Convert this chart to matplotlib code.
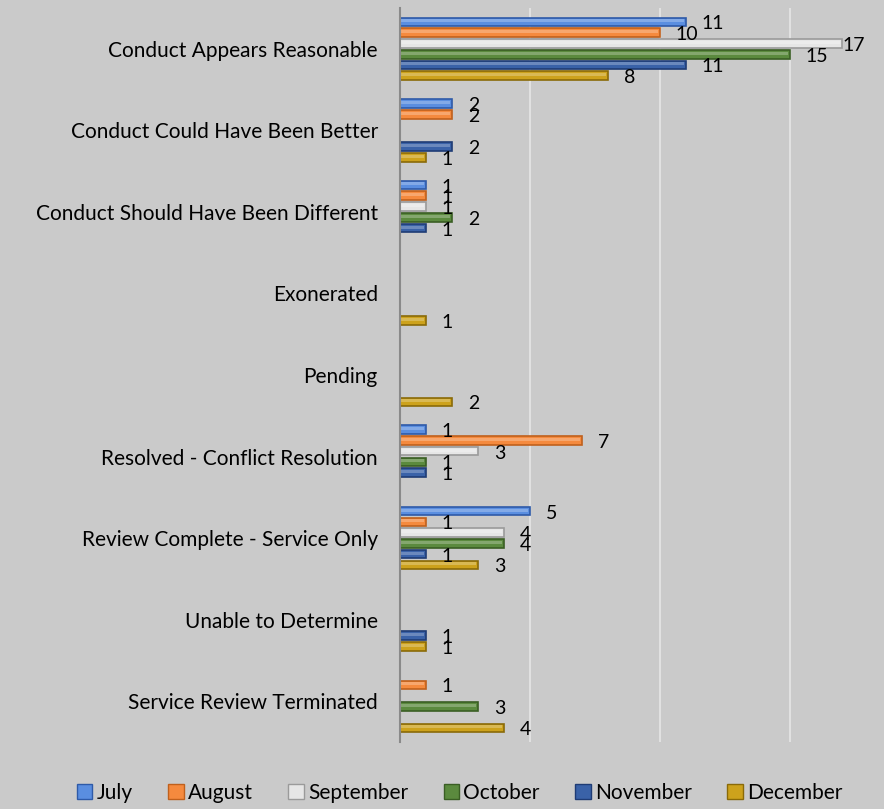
import matplotlib
matplotlib.use("Agg")
import matplotlib.pyplot as plt
import numpy as np

categories = [
    "Conduct Appears Reasonable",
    "Conduct Could Have Been Better",
    "Conduct Should Have Been Different",
    "Exonerated",
    "Pending",
    "Resolved - Conflict Resolution",
    "Review Complete - Service Only",
    "Unable to Determine",
    "Service Review Terminated",
]
months = ["July", "August", "September", "October", "November", "December"]

july = [11, 2, 1, 0, 0, 1, 5, 0, 0]
august = [10, 2, 1, 0, 0, 7, 1, 0, 1]
september = [17, 0, 1, 0, 0, 3, 4, 0, 0]
october = [15, 0, 2, 0, 0, 1, 4, 0, 3]
november = [11, 2, 1, 0, 0, 1, 1, 1, 0]
december = [8, 1, 0, 1, 2, 0, 3, 1, 4]
series = [july, august, september, october, november, december]

face_colors = ["#5a8ee0", "#f58a3e", "#e6e6e6", "#5b8a3e", "#3a62a8", "#cda21c"]
edge_colors = ["#2e5aa8", "#c0601c", "#9a9a9a", "#3a5e24", "#1f3c75", "#8a6a08"]
bg = "#cacaca"

plt.rcParams["font.family"] = ["Lato", "DejaVu Sans"]

fig = plt.figure(figsize=(8.84, 8.09), dpi=100, facecolor=bg)
ax = fig.add_axes([0.4525, 0.083, 0.5475, 0.907], facecolor=bg)

xmax = 18.6
y = np.arange(len(categories))
step = 0.132
height = 0.105

for j, (vals, fc, ec, name) in enumerate(zip(series, face_colors, edge_colors, months)):
    pos = y + (j - 2.5) * step
    vals = np.array(vals)
    ax.barh(pos, vals, height=height, color=fc, edgecolor=ec, linewidth=1.2,
            label=name, zorder=3)
    # lighter strip to mimic the bevelled look
    ax.barh(pos - height * 0.12, np.maximum(vals - 0.08, 0), height=height * 0.35,
            color="white", alpha=0.25, linewidth=0, zorder=4)
    for p, v in zip(pos, vals):
        if v > 0:
            # labels that would run off the plot get pulled back inside, like Excel does
            lx = min(v + 0.6, xmax - 1.6)
            ax.annotate(str(v), (lx, p), xytext=(0, -2), textcoords="offset pixels",
                        ha="left", va="center", fontsize=14, color="black", zorder=5)

ax.set_xlim(0, xmax)
ax.set_ylim(len(categories) - 0.5, -0.5)
ax.set_xticks([0, 5, 10, 15])
ax.tick_params(axis="x", length=0, labelbottom=False)
ax.tick_params(axis="y", length=0, pad=16, labelsize=15)
ax.set_yticks(y)
ax.set_yticklabels(categories)
ax.grid(axis="x", color="#e6e6e6", linewidth=1.2, zorder=0)
for s in ["top", "right", "bottom"]:
    ax.spines[s].set_visible(False)
ax.spines["left"].set_color("#8a8a8a")
ax.spines["left"].set_linewidth(1.5)
ax.spines["left"].set_zorder(6)

handles = [plt.Rectangle((0, 0), 1, 1, facecolor=fc, edgecolor=ec) for fc, ec in zip(face_colors, edge_colors)]
fig.legend(handles, months, loc="center", bbox_to_anchor=(0.52, 0.02), ncol=6,
           frameon=False, fontsize=15, handlelength=0.75, handleheight=0.75,
           handletextpad=0.2, columnspacing=1.7)

fig.savefig("out.png", dpi=100, facecolor=bg)
